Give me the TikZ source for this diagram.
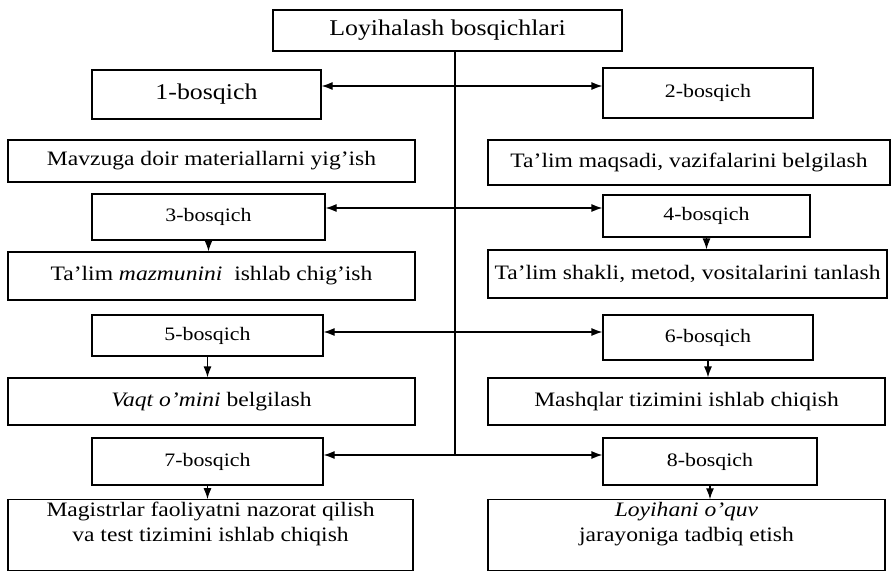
\documentclass[tikz,border=0pt]{standalone}
\usepackage{fontspec}
\setmainfont[FakeStretch=1.15]{Liberation Serif}
\usetikzlibrary{arrows.meta}
\begin{document}
\begin{tikzpicture}[x=1pt,y=-1pt,
    box/.style={draw, line width=1.2pt, inner sep=2pt, align=center, font=\fontsize{20.5}{25}\selectfont},
    stepbox/.style={box, font=\fontsize{19}{23}\selectfont},
    bigbox/.style={box, font=\fontsize{22.5}{27}\selectfont},
    arr/.style={line width=1.2pt, -{Latex[length=11pt,width=8pt]}},
    darr/.style={line width=1.2pt, {Latex[length=11pt,width=8pt]}-{Latex[length=11pt,width=8pt]}}]
  \useasboundingbox (0,0) rectangle (891,570);
  % sarlavha
  \node[bigbox, minimum width=349pt, minimum height=41pt] (title) at (447.5,30.5) {Loyihalash bosqichlari};
  % bosqichlar
  \node[bigbox, minimum width=229pt, minimum height=49pt] (b1) at (206.5,94.5) {1-bosqich};
  \node[stepbox, minimum width=210pt, minimum height=50pt] (b2) at (708,93) {2-bosqich};
  \node[stepbox, minimum width=233pt, minimum height=46pt] (b3) at (208.5,217) {3-bosqich};
  \node[stepbox, minimum width=207pt, minimum height=42pt] (b4) at (706.5,216) {4-bosqich};
  \node[stepbox, minimum width=231pt, minimum height=41pt] (b5) at (207.5,335.5) {5-bosqich};
  \node[stepbox, minimum width=210pt, minimum height=45pt] (b6) at (708,337.5) {6-bosqich};
  \node[stepbox, minimum width=231pt, minimum height=47pt] (b7) at (207.5,461.5) {7-bosqich};
  \node[stepbox, minimum width=214pt, minimum height=47pt] (b8) at (710,461.5) {8-bosqich};
  % mazmun
  \node[box, minimum width=407pt, minimum height=42pt] (m1) at (211.5,161) {Mavzuga doir materiallarni yig’ish};
  \node[box, minimum width=402pt, minimum height=45pt] (m2) at (689,162.5) {Ta’lim maqsadi, vazifalarini belgilash};
  \node[box, minimum width=407pt, minimum height=48pt] (m3) at (211.5,276) {Ta’lim \textit{mazmunini}\ \ ishlab chig’ish};
  \node[box, minimum width=399pt, minimum height=48pt] (m4) at (687.5,274) {Ta’lim shakli, metod, vositalarini tanlash};
  \node[box, minimum width=407pt, minimum height=47pt] (m5) at (211.5,401.5) {\textit{Vaqt o’mini} belgilash};
  \node[box, minimum width=397pt, minimum height=47pt] (m6) at (686.5,401.5) {Mashqlar tizimini ishlab chiqish};
  \node[box, minimum width=405pt, minimum height=69pt] (m7) at (210.5,535) {Magistrlar faoliyatni nazorat qilish\\va test tizimini ishlab chiqish\\[2pt]\mbox{}};
  \node[box, minimum width=397pt, minimum height=69pt] (m8) at (686.5,535) {\textit{Loyihani o’quv}\\jarayoniga tadbiq etish\\[2pt]\mbox{}};
  % markaziy chiziq
  \coordinate (r1) at (455,86);
  \coordinate (r3) at (455,208);
  \coordinate (r5) at (455,332);
  \coordinate (r7) at (455,455);
  \draw[line width=1.2pt] (r1 |- title.south) -- (r7);
  \draw[darr] (b1.east |- r1) -- (b2.west |- r1);
  \draw[darr] (b3.east |- r3) -- (b4.west |- r3);
  \draw[darr] (b5.east |- r5) -- (b6.west |- r5);
  \draw[darr] (b7.east |- r7) -- (b8.west |- r7);
  % pastga strelkalar
  \foreach \a/\b in {b3/m3, b4/m4, b5/m5, b6/m6, b7/m7, b8/m8}
    \draw[arr] (\a.south) -- (\a.south |- \b.north);
\end{tikzpicture}
\end{document}
